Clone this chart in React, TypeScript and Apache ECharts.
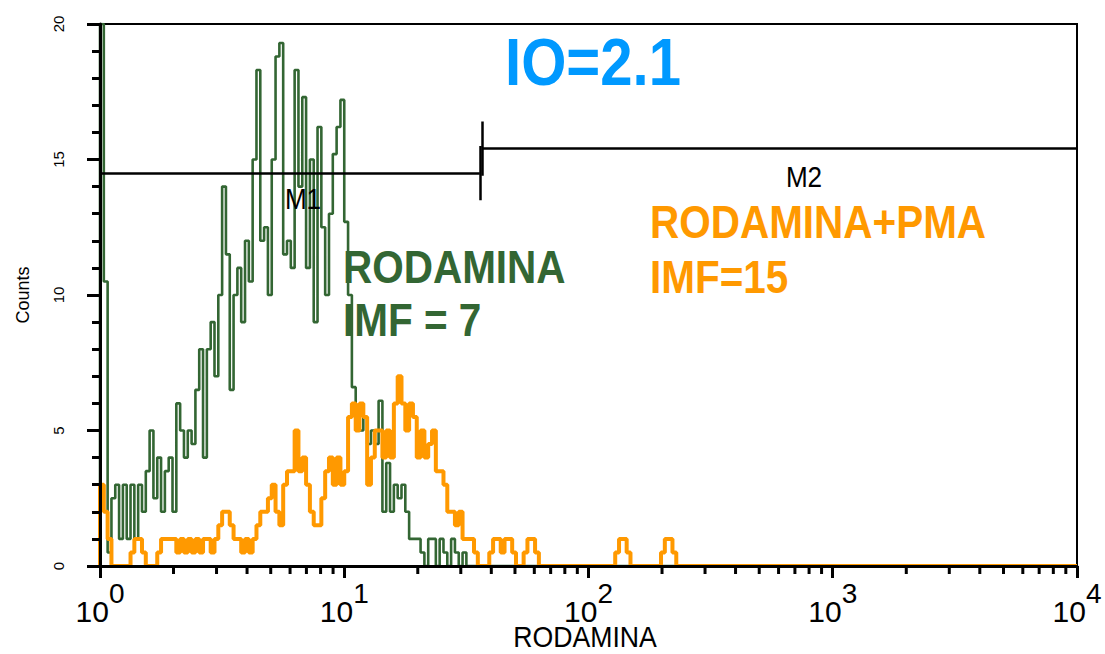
import React, { useEffect, useRef } from "react";
import * as echarts from "echarts";

// ---- data ----
const CHANNELS_PER_DECADE = 64; // 256 channels over 4 decades
const X_MIN = 1;
const X_MAX = 10000;
const Y_MAX = 20;
const Y_INTERVAL = 5;

// RODAMINA (green) counts per channel, starting at channel 0
const GREEN_COUNTS = [
  20, 10.5, 0.5, 2.5, 3, 1, 3, 1, 3, 1, 3, 2, 3.5, 5, 2.5, 4, 2, 3.5, 4, 2,
  6, 5, 4, 5, 4.5, 6.5, 8, 4, 8, 9, 7, 10, 14, 11.5, 6.5, 10, 11, 9, 12, 10.5,
  15, 18.3, 12, 12.5, 10, 15, 18.8, 19.3, 11.5, 12, 11, 18.3, 14, 17.3, 11, 15, 9, 16.2, 12.5, 10,
  13, 15.2, 16.2, 17.2, 12.7, 10, 6.6, 5.6, 5, 5.5, 4.5, 5, 4.5, 6.1, 2, 3.8, 2, 3, 2.5, 3,
  2, 1, 1, 1, 0.5, 0, 1, 1, 0, 1, 0.5, 0, 1, 0.5, 0, 0.5, 0,
];

// RODAMINA+PMA (orange) counts per channel, starting at channel 0
const ORANGE_COUNTS = [
  3, 2, 1, 0, 0, 0, 0, 0, 0.5, 1, 1, 0.5, 0, 0, 0, 0.5, 1, 1, 1, 1,
  0.5, 1, 0.5, 1, 0.5, 1, 0.5, 1, 1, 0.5, 1, 1.5, 2, 2, 1.5, 1, 1, 0.5, 1, 0.5,
  1, 1.5, 2, 2, 2.5, 3, 2, 1.5, 3, 3.5, 3.5, 5, 3.5, 4, 3, 2, 1.5, 1.5, 2.5, 3.5,
  4, 3, 4, 3, 3.5, 5.5, 6, 5, 6, 5.5, 3, 4, 5, 5, 4, 5, 4, 6, 7, 6,
  5, 6, 5.5, 4, 5, 4, 4.5, 5, 3.5, 3.5, 3, 2, 2, 1.5, 2, 1, 1, 1, 0.5, 0,
  0, 0, 0.5, 1, 1, 0.5, 1, 1, 0.5, 0, 0, 0.5, 1, 1, 0.5, 0, 0, 0, 0, 0,
  0, 0, 0, 0, 0, 0, 0, 0, 0, 0, 0, 0, 0, 0, 0, 0.5, 1, 1, 0.5, 0,
  0, 0, 0, 0, 0, 0, 0, 0.5, 1, 1, 0.5, 0,
];

// Markers (gates)
const M1_RANGE = [1, 35.9];
const M1_LEVEL = 14.5;
const M2_RANGE = [36.9, 10000];
const M2_LEVEL = 15.4;
const GATE_TICK_HALF = 1;

// Axis tick definitions
const DECADES = [1, 10, 100, 1000];
const MINOR_MULTIPLIERS = [2, 3, 4, 5, 6, 7, 8, 9];

const GREEN = "#336633";
const ORANGE = "#ff9900";
const BLUE = "#0099ff";
const FONT = "'Liberation Sans', Arial, Helvetica, sans-serif";

function toSeries(counts: number[]) {
  const pts: (number[])[] = [[X_MIN, 0]];
  counts.forEach((v, i) => {
    pts.push([Math.pow(10, i / CHANNELS_PER_DECADE), v]);
  });
  pts.push([X_MAX, 0]);
  return pts;
}

function text(
  str: string,
  x: number,
  y: number,
  size: number,
  weight: string,
  color: string,
  align: string,
  scaleX: number
) {
  return {
    type: "text",
    x,
    y,
    scaleX,
    silent: true,
    z: 20,
    style: {
      text: str,
      fill: color,
      font: `${weight} ${size}px ${FONT}`,
      textAlign: align,
      textVerticalAlign: "middle",
      verticalAlign: "middle",
    },
  };
}

export default function App() {
  const ref = useRef<HTMLDivElement>(null);

  useEffect(() => {
    if (!ref.current) return;
    const chart = echarts.init(ref.current, undefined, { renderer: "svg" });

    const minorTicks: number[][] = [];
    DECADES.forEach((d) => MINOR_MULTIPLIERS.forEach((m) => minorTicks.push([d * m, 0])));

    const option: any = {
      animation: false,
      backgroundColor: "#ffffff",
      grid: {
        left: 100,
        right: 28,
        top: 24,
        bottom: 88,
        show: true,
        borderColor: "#000",
        borderWidth: 2,
        backgroundColor: "transparent",
      },
      xAxis: {
        type: "log",
        logBase: 10,
        min: X_MIN,
        max: X_MAX,
        z: 10,
        axisLine: { show: true, onZero: false, lineStyle: { color: "#000", width: 3 } },
        axisTick: { show: true, length: 12, lineStyle: { color: "#000", width: 3 } },
        splitLine: { show: false },
        axisLabel: {
          margin: 30,
          formatter: (v: number) => `{b|10}{s|${Math.round(Math.log10(v))}}`,
          rich: {
            b: { fontSize: 30, fontFamily: FONT, color: "#000", lineHeight: 30, verticalAlign: "bottom" },
            s: {
              fontSize: 28,
              fontFamily: FONT,
              color: "#000",
              lineHeight: 30,
              verticalAlign: "bottom",
              padding: [0, 0, 19, 0],
            },
          },
        },
      },
      yAxis: {
        type: "value",
        min: 0,
        max: Y_MAX,
        interval: Y_INTERVAL,
        z: 10,
        axisLine: { show: true, onZero: false, lineStyle: { color: "#000", width: 3 } },
        axisTick: { show: true, length: 13, lineStyle: { color: "#000", width: 3 } },
        minorTick: { show: true, splitNumber: 5, length: 8, lineStyle: { color: "#000", width: 3 } },
        splitLine: { show: false },
        axisLabel: { rotate: 90, fontSize: 15, fontFamily: FONT, color: "#000", margin: 34 },
        name: "Counts",
        nameLocation: "middle",
        nameRotate: 90,
        nameGap: 68,
        nameTextStyle: { fontSize: 18, fontFamily: FONT, color: "#000" },
      },
      series: [
        {
          type: "line",
          name: "RODAMINA",
          step: "end",
          showSymbol: false,
          symbol: "none",
          silent: true,
          z: 2,
          lineStyle: { color: GREEN, width: 2.6 },
          data: toSeries(GREEN_COUNTS),
        },
        {
          type: "line",
          name: "RODAMINA+PMA",
          step: "end",
          showSymbol: false,
          symbol: "none",
          silent: true,
          z: 3,
          lineStyle: { color: ORANGE, width: 4 },
          data: toSeries(ORANGE_COUNTS),
        },
        {
          type: "lines",
          coordinateSystem: "cartesian2d",
          silent: true,
          z: 4,
          lineStyle: { color: "#000", width: 2.5, opacity: 1 },
          data: [
            { coords: [[M1_RANGE[0], M1_LEVEL], [M1_RANGE[1], M1_LEVEL]] },
            { coords: [[M1_RANGE[1], M1_LEVEL - GATE_TICK_HALF], [M1_RANGE[1], M1_LEVEL + GATE_TICK_HALF]] },
            { coords: [[M2_RANGE[0], M2_LEVEL], [M2_RANGE[1], M2_LEVEL]] },
            { coords: [[M2_RANGE[0], M2_LEVEL - GATE_TICK_HALF], [M2_RANGE[0], M2_LEVEL + GATE_TICK_HALF]] },
          ],
        },
        {
          type: "custom",
          coordinateSystem: "cartesian2d",
          silent: true,
          clip: false,
          z: 11,
          data: minorTicks,
          renderItem: (params: any, api: any) => {
            const p = api.coord([api.value(0), 0]);
            return {
              type: "line",
              shape: { x1: p[0], y1: p[1], x2: p[0], y2: p[1] + 8 },
              style: { stroke: "#000", lineWidth: 3 },
            };
          },
        },
      ],
      graphic: [
        text("IO=2.1", 505, 62, 66, "bold", BLUE, "left", 0.88),
        text("RODAMINA", 343, 267, 46, "bold", GREEN, "left", 0.88),
        text("IMF = 7", 343, 320, 46, "bold", GREEN, "left", 0.88),
        text("RODAMINA+PMA", 650, 222, 46, "bold", ORANGE, "left", 0.88),
        text("IMF=15", 650, 277, 46, "bold", ORANGE, "left", 0.88),
        text("M1", 303, 199, 29, "normal", "#000", "center", 0.9),
        text("M2", 804, 177, 29, "normal", "#000", "center", 0.9),
        text("RODAMINA", 585, 637, 29, "normal", "#000", "center", 0.92),
      ],
    };

    chart.setOption(option);
    return () => chart.dispose();
  }, []);

  return (
    <div
      ref={ref}
      style={{ position: "absolute", left: 0, top: 0, width: 1105, height: 654, background: "#fff" }}
    />
  );
}
